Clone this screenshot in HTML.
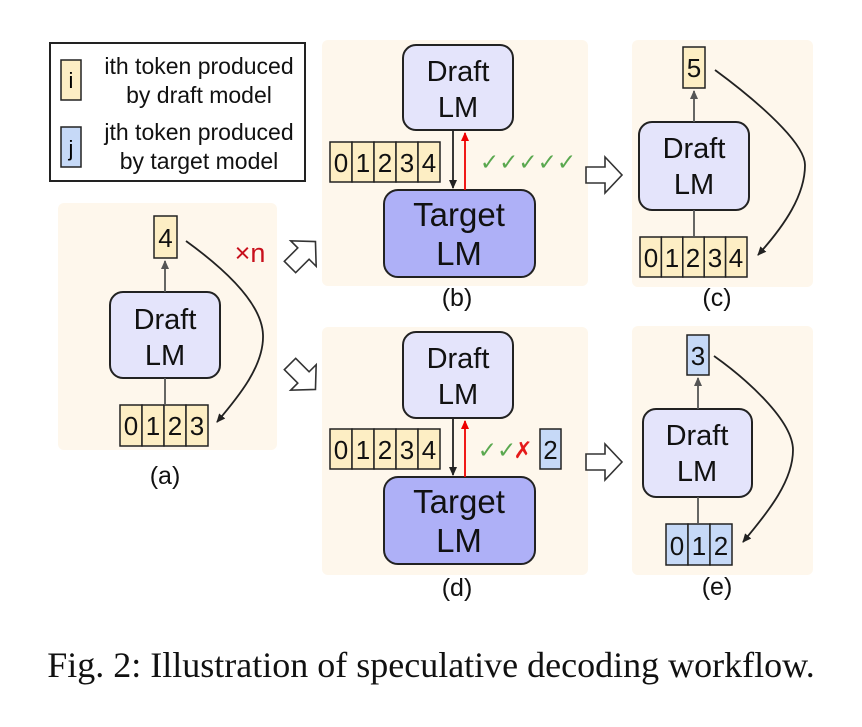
<!DOCTYPE html>
<html><head><meta charset="utf-8"><style>
body{margin:0;background:#fff;width:862px;height:722px;overflow:hidden}
svg text{font-family:"Liberation Sans","DejaVu Sans",sans-serif}
</style></head><body>
<svg width="862" height="722" viewBox="0 0 862 722" xmlns="http://www.w3.org/2000/svg">
<defs>
<marker id="ah" markerWidth="10" markerHeight="10" refX="8" refY="5" orient="auto" markerUnits="userSpaceOnUse"><path d="M0,1 L9,5 L0,9 Z" fill="#222"/></marker>
<marker id="ahr" markerWidth="10" markerHeight="10" refX="8" refY="5" orient="auto" markerUnits="userSpaceOnUse"><path d="M0,1 L9,5 L0,9 Z" fill="#e00"/></marker>
<marker id="ahg" markerWidth="10" markerHeight="10" refX="8" refY="5" orient="auto" markerUnits="userSpaceOnUse"><path d="M0,1 L9,5 L0,9 Z" fill="#555"/></marker>
</defs>
<g fill="#fef7ec">
<rect x="58" y="203" width="219" height="247" rx="6"/>
<rect x="322" y="40" width="266" height="246" rx="6"/>
<rect x="632" y="40" width="181" height="247" rx="6"/>
<rect x="322" y="327" width="266" height="248" rx="6"/>
<rect x="632" y="326" width="181" height="249" rx="6"/>
</g>
<rect x="50" y="43" width="255" height="138" fill="#fff" stroke="#222" stroke-width="2"/>
<rect x="61" y="60" width="20" height="40" fill="#fdeec4" stroke="#222" stroke-width="1.5"/>
<text x="71" y="88" font-size="22" text-anchor="middle">i</text>
<rect x="61" y="127" width="20" height="40" fill="#c6d9f7" stroke="#222" stroke-width="1.5"/>
<text x="71" y="156" font-size="22" text-anchor="middle">j</text>
<g font-size="23" text-anchor="middle" fill="#111">
<text x="199" y="74">ith token produced</text>
<text x="199" y="103">by draft model</text>
<text x="199" y="140">jth token produced</text>
<text x="199" y="169">by target model</text>
</g>

<g font-size="24" text-anchor="middle" fill="#111" stroke="#222" stroke-width="1.5">
<rect x="154" y="216" width="23" height="42" fill="#fdeec4"/>
<rect x="110" y="292" width="110" height="86" rx="13" fill="#e4e4fb" stroke-width="2"/>
<rect x="120" y="405" width="22" height="41" fill="#fdeec4"/>
<rect x="142" y="405" width="22" height="41" fill="#fdeec4"/>
<rect x="164" y="405" width="22" height="41" fill="#fdeec4"/>
<rect x="186" y="405" width="22" height="41" fill="#fdeec4"/>
<rect x="403" y="45" width="110" height="85" rx="13" fill="#e4e4fb" stroke-width="2"/>
<rect x="384" y="190" width="151" height="87" rx="14" fill="#aeb0f7" stroke-width="2"/>
<rect x="330" y="142" width="22" height="40" fill="#fdeec4"/>
<rect x="352" y="142" width="22" height="40" fill="#fdeec4"/>
<rect x="374" y="142" width="22" height="40" fill="#fdeec4"/>
<rect x="396" y="142" width="22" height="40" fill="#fdeec4"/>
<rect x="418" y="142" width="22" height="40" fill="#fdeec4"/>
<rect x="683" y="47" width="22" height="41" fill="#fdeec4"/>
<rect x="639" y="122" width="110" height="88" rx="13" fill="#e4e4fb" stroke-width="2"/>
<rect x="640" y="237" width="21.4" height="40" fill="#fdeec4"/>
<rect x="661.4" y="237" width="21.4" height="40" fill="#fdeec4"/>
<rect x="682.8" y="237" width="21.4" height="40" fill="#fdeec4"/>
<rect x="704.2" y="237" width="21.4" height="40" fill="#fdeec4"/>
<rect x="725.6" y="237" width="21.4" height="40" fill="#fdeec4"/>
<rect x="403" y="332" width="110" height="86" rx="13" fill="#e4e4fb" stroke-width="2"/>
<rect x="384" y="477" width="151" height="87" rx="14" fill="#aeb0f7" stroke-width="2"/>
<rect x="330" y="429" width="22" height="40" fill="#fdeec4"/>
<rect x="352" y="429" width="22" height="40" fill="#fdeec4"/>
<rect x="374" y="429" width="22" height="40" fill="#fdeec4"/>
<rect x="396" y="429" width="22" height="40" fill="#fdeec4"/>
<rect x="418" y="429" width="22" height="40" fill="#fdeec4"/>
<rect x="540" y="429" width="21" height="40" fill="#c6d9f7"/>
<rect x="687" y="335" width="22" height="40" fill="#c6d9f7"/>
<rect x="643" y="409" width="109" height="88" rx="13" fill="#e4e4fb" stroke-width="2"/>
<rect x="666" y="524" width="22" height="41" fill="#c6d9f7"/>
<rect x="688" y="524" width="22" height="41" fill="#c6d9f7"/>
<rect x="710" y="524" width="22" height="41" fill="#c6d9f7"/>
</g>

<g font-size="26" text-anchor="middle" fill="#111">
<text x="165.5" y="247">4</text>
<text x="131" y="435">0</text><text x="153" y="435">1</text><text x="175" y="435">2</text><text x="197" y="435">3</text>
<text x="341" y="172">0</text><text x="363" y="172">1</text><text x="385" y="172">2</text><text x="407" y="172">3</text><text x="429" y="172">4</text>
<text x="694" y="77">5</text>
<text x="651" y="267">0</text><text x="672" y="267">1</text><text x="693" y="267">2</text><text x="715" y="267">3</text><text x="736" y="267">4</text>
<text x="341" y="459">0</text><text x="363" y="459">1</text><text x="385" y="459">2</text><text x="407" y="459">3</text><text x="429" y="459">4</text>
<text x="550.5" y="459">2</text>
<text x="698" y="365">3</text>
<text x="677" y="555">0</text><text x="699" y="555">1</text><text x="721" y="555">2</text>
</g>
<g font-size="29" text-anchor="middle" fill="#111">
<text x="165" y="329">Draft</text><text x="165" y="365">LM</text>
<text x="458" y="81">Draft</text><text x="458" y="117">LM</text>
<text x="694" y="158">Draft</text><text x="694" y="194">LM</text>
<text x="458" y="368">Draft</text><text x="458" y="404">LM</text>
<text x="697" y="445">Draft</text><text x="697" y="481">LM</text>
<text x="459" y="226" font-size="33">Target</text><text x="459" y="265" font-size="33">LM</text>
<text x="459" y="513" font-size="33">Target</text><text x="459" y="552" font-size="33">LM</text>
</g>
<g font-size="25" text-anchor="middle" fill="#111">
<text x="165" y="484">(a)</text>
<text x="457" y="306">(b)</text>
<text x="717" y="306">(c)</text>
<text x="457" y="596">(d)</text>
<text x="717" y="595">(e)</text>
</g>
<text x="250" y="262" font-size="27" fill="#c8101c" text-anchor="middle">×n</text>
<text x="528" y="170" font-size="23" font-weight="bold" fill="#5aa84f" text-anchor="middle">✓✓✓✓✓</text>
<text x="497" y="458" font-size="23" font-weight="bold" fill="#5aa84f" text-anchor="middle">✓✓</text>
<text x="523" y="458" font-size="23" font-weight="bold" fill="#e51a1a" text-anchor="middle">✗</text>

<g stroke="#555" stroke-width="1.8" fill="none">
<line x1="165" y1="292" x2="165" y2="261" marker-end="url(#ahg)"/>
<line x1="165" y1="378" x2="165" y2="405"/>
<line x1="694" y1="122" x2="694" y2="91" marker-end="url(#ahg)"/>
<line x1="694" y1="210" x2="694" y2="237"/>
<line x1="698" y1="409" x2="698" y2="378" marker-end="url(#ahg)"/>
<line x1="698" y1="497" x2="698" y2="524"/>
</g>
<g stroke="#222" stroke-width="1.8" fill="none">
<line x1="453" y1="130" x2="453" y2="188" marker-end="url(#ah)"/>
<line x1="453" y1="418" x2="453" y2="475" marker-end="url(#ah)"/>
<path d="M186,241 C215,262 262,300 263,335 C264,365 240,395 217,422" marker-end="url(#ah)"/>
<path d="M715,70 C745,92 805,140 805,165 C805,195 785,225 758,255" marker-end="url(#ah)"/>
<path d="M714,356 C745,378 793,420 793,450 C793,480 770,510 743,542" marker-end="url(#ah)"/>
</g>
<g stroke="#e00" stroke-width="1.8">
<line x1="465" y1="190" x2="465" y2="133" marker-end="url(#ahr)"/>
<line x1="465" y1="477" x2="465" y2="421" marker-end="url(#ahr)"/>
</g>
<g fill="#fff" stroke="#333" stroke-width="1.6" stroke-linejoin="miter">
<path d="M0,-8 L19,-8 L19,-18 L36,0 L19,18 L19,8 L0,8 Z" transform="translate(586,175)"/>
<path d="M0,-8 L19,-8 L19,-18 L36,0 L19,18 L19,8 L0,8 Z" transform="translate(586,462)"/>
<path d="M0,-8 L19,-8 L19,-18 L36,0 L19,18 L19,8 L0,8 Z" transform="translate(290,267) rotate(-45)"/>
<path d="M0,-8 L19,-8 L19,-18 L36,0 L19,18 L19,8 L0,8 Z" transform="translate(290,364) rotate(45)"/>
</g>
<text x="431" y="677" font-size="36" text-anchor="middle" fill="#111" style="font-family:'Liberation Serif',serif">Fig. 2: Illustration of speculative decoding workflow.</text>
</svg>
</body></html>
